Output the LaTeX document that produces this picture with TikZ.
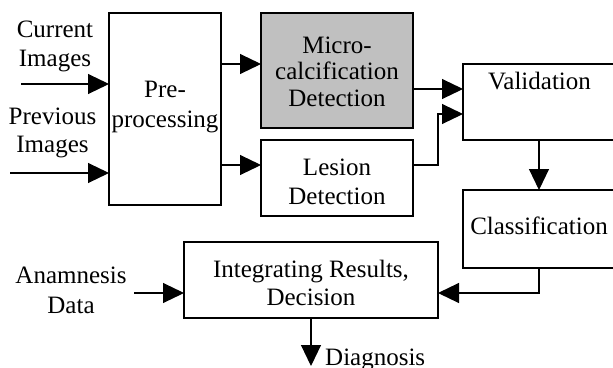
\documentclass[tikz,border=0pt]{standalone}
\usepackage{fontspec}
\setmainfont{Liberation Serif}
\usetikzlibrary{arrows.meta,calc}
\definecolor{boxgray}{RGB}{192,192,192}
\begin{document}
\begin{tikzpicture}[x=1pt,y=-1pt,
  box/.style={draw, line width=1.2pt, inner sep=0pt, outer sep=0pt},
  conn/.style={line width=1.1pt, -{Triangle[length=21pt,width=20pt]}},
  txt/.style={font=\fontsize{25}{#1}\selectfont, align=center, inner sep=0pt, anchor=base},
  txt/.default=29]
\useasboundingbox (0,0) rectangle (613,367);
% boxes
\node[box, minimum width=112pt, minimum height=192pt] (pre) at (165,109) {};
\node[box, fill=boxgray, minimum width=152pt, minimum height=115pt] (micro) at (337,70.5) {};
\node[box, minimum width=152pt, minimum height=76pt] (lesion) at (337,178) {};
\node[box, minimum width=152pt, minimum height=76pt] (valid) at (539,102) {};
\node[box, minimum width=152pt, minimum height=78pt] (class) at (539,229) {};
\node[box, minimum width=254pt, minimum height=76pt] (integ) at (311,280) {};
% texts (anchored at the baseline of the last line)
\node[txt] (tcur) at (55,66) {Current\\Images};
\node[txt=28] (tprev) at (52.5,152) {Previous\\Images};
\node[txt=30] (tpre) at (165,127) {Pre-\\processing};
\node[txt=26.5] (tmicro) at (337,106) {Micro-\\calcification\\Detection};
\node[txt] (tles) at (337,204) {Lesion\\Detection};
\node[txt] (tval) at (539.5,89) {Validation};
\node[txt] (tcls) at (539,234) {Classification};
\node[txt=28] (tint) at (311,305) {Integrating Results,\\Decision};
\node[txt=30] (tana) at (71,313) {Anamnesis\\Data};
\node[txt, anchor=base west] (tdia) at (325,365) {Diagnosis};
% helper coordinates
\coordinate (cur) at (21,84);
\coordinate (prev) at (10,173);
\coordinate (m1) at (0,64);
\coordinate (l1) at (0,165);
\coordinate (v1) at (0,89);
\coordinate (v2) at (0,114);
\coordinate (bend) at (438,165);
\coordinate (c2) at (0,293);
\coordinate (ana) at (134,293);
\coordinate (dia) at (311,366);
% connectors
\draw[conn] (cur) -- (pre.west |- cur);
\draw[conn] (prev) -- (pre.west |- prev);
\draw[conn] (pre.east |- m1) -- (micro.west |- m1);
\draw[conn] (pre.east |- l1) -- (lesion.west |- l1);
\draw[conn] (micro.east |- v1) -- (valid.west |- v1);
\draw[conn] (lesion.east |- l1) -- (bend) |- (valid.west |- v2);
\draw[conn] (valid.south) -- (class.north);
\draw[conn] (class.south) |- (integ.east |- c2);
\draw[conn] (ana) -- (integ.west |- ana);
\draw[conn] (integ.south) -- (dia);
\end{tikzpicture}
\end{document}
